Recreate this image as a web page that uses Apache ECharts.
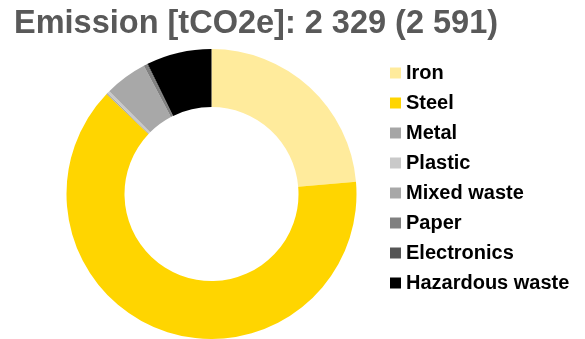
<!DOCTYPE html>
<html>
<head>
<meta charset="utf-8">
<script src="https://cdn.jsdelivr.net/npm/echarts@6/dist/echarts.min.js"></script>
<style>
  html, body { margin: 0; padding: 0; background: #fff; }
  #chart { width: 585px; height: 339px; }
</style>
</head>
<body>
<div id="chart"></div>
<script>
// Emission breakdown by waste category (tCO2e)
const categories = ['Iron', 'Steel', 'Metal', 'Plastic', 'Mixed waste', 'Paper', 'Electronics', 'Hazardous waste'];
const emissions = [551, 1478, 3, 7, 110, 9, 2, 169];
const colors = ['#FFEB9C', '#FFD500', '#A6A6A6', '#C9C9C9', '#A8A8A8', '#808080', '#555555', '#000000'];
const titleText = 'Emission [tCO2e]: 2 329 (2 591)';

const chart = echarts.init(document.getElementById('chart'), null, { renderer: 'canvas' });

chart.setOption({
  animation: false,
  backgroundColor: '#ffffff',
  title: {
    text: titleText,
    left: 9,
    top: 3,
    textStyle: {
      fontFamily: 'Liberation Sans, Arial, sans-serif',
      fontSize: 32.5,
      fontWeight: 'bold',
      color: '#595959'
    }
  },
  legend: {
    orient: 'vertical',
    left: 385,
    top: 58,
    itemWidth: 11,
    itemHeight: 11,
    itemGap: 10,
    icon: 'rect',
    data: categories,
    textStyle: {
      fontFamily: 'Liberation Sans, Arial, sans-serif',
      fontSize: 20,
      fontWeight: 'bold',
      color: '#000000'
    }
  },
  series: [{
    type: 'pie',
    center: [211.5, 194],
    radius: [87, 145],
    startAngle: 90,
    clockwise: true,
    avoidLabelOverlap: false,
    label: { show: false },
    labelLine: { show: false },
    emphasis: { disabled: true },
    itemStyle: { borderWidth: 0 },
    data: categories.map((name, i) => ({
      name: name,
      value: emissions[i],
      itemStyle: { color: colors[i] }
    }))
  }]
});
</script>
</body>
</html>
